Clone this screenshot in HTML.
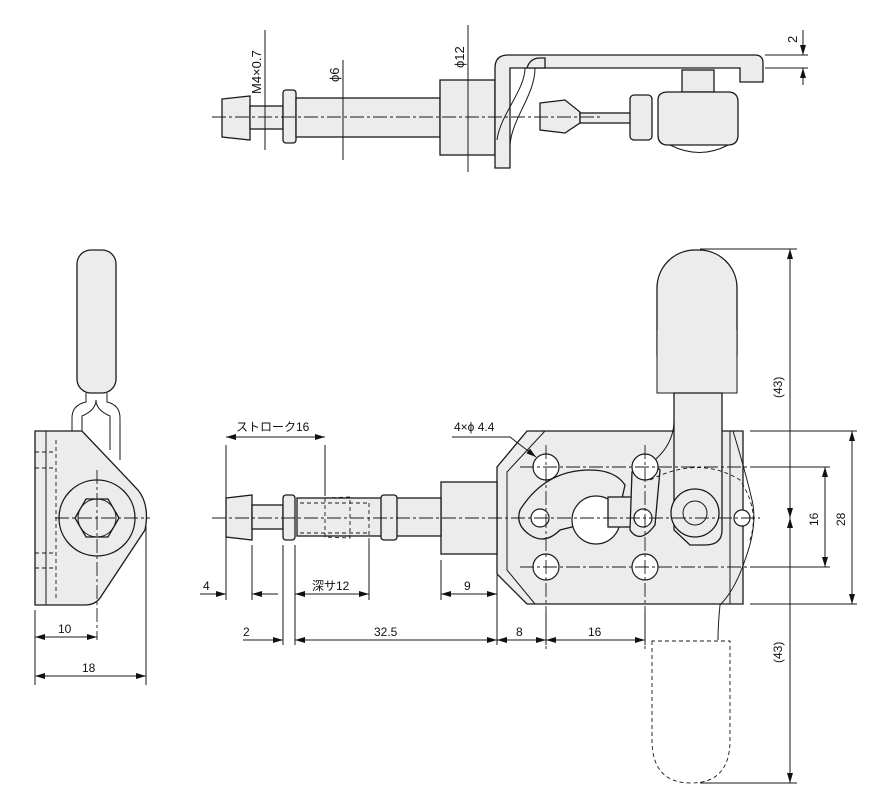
<!DOCTYPE html>
<html><head><meta charset="utf-8"><style>
body{margin:0;background:#fff}
svg{display:block}
text{font-family:"Liberation Sans","Noto Sans CJK JP",sans-serif;font-size:12px;fill:#111}
.o{fill:#ececec;stroke:#1a1a1a;stroke-width:1.3}
.l{fill:none;stroke:#1a1a1a;stroke-width:1}
.c{fill:none;stroke:#1a1a1a;stroke-width:.9;stroke-dasharray:14 3 3 3}
.d{fill:none;stroke:#1a1a1a;stroke-width:.9;stroke-dasharray:4 3}
.w{fill:#fff;stroke:#1a1a1a;stroke-width:1.2}
</style></head><body>
<svg width="875" height="808" viewBox="0 0 875 808" xmlns="http://www.w3.org/2000/svg">
<defs><marker id="a" viewBox="0 0 10 6" refX="10" refY="3" markerWidth="10" markerHeight="6" orient="auto-start-reverse"><path d="M0,0L10,3L0,6z" fill="#111"/></marker></defs>

<!-- TOP VIEW -->
<path class="o" d="M222,99 L250,96 L250,140 L222,137 Z"/>
<rect class="o" x="250" y="106" width="33" height="23"/>
<rect class="o" x="283" y="90" width="13" height="53" rx="3"/>
<rect class="o" x="296" y="98" width="144" height="39"/>
<rect class="o" x="440" y="80" width="55" height="75"/>
<path class="o" d="M495,168 L495,68 Q495,55 508,55 L755,55 Q763,55 763,63 L763,82 L740,82 L740,68 L510,68 L510,168 Z"/>
<path class="o" d="M527,68 Q530,58 540,58 L545,58 L545,68 Z"/>
<path class="l" d="M525,68 C525,90 500,115 497,140 M535,68 C535,95 512,118 510,145"/>
<path class="o" d="M540,103 L565,100 L580,112 L580,123 L565,133 L540,130 Z"/>
<rect class="o" x="580" y="113" width="52" height="10"/>
<rect class="o" x="630" y="95" width="22" height="45" rx="4"/>
<rect class="o" x="682" y="70" width="32" height="22"/>
<path class="o" d="M658,100 Q658,92 668,92 L728,92 Q738,92 738,102 L738,135 Q738,145 728,145 L668,145 Q658,145 658,135 Z"/>
<path class="l" d="M670,145 Q700,160 728,145"/>
<line class="c" x1="212" y1="117" x2="600" y2="117"/>
<line class="l" x1="265" y1="30" x2="265" y2="150"/>
<line class="l" x1="343" y1="60" x2="343" y2="160"/>
<line class="l" x1="468" y1="25" x2="468" y2="172"/>
<line class="l" x1="765" y1="55" x2="808" y2="55"/><line class="l" x1="765" y1="68" x2="808" y2="68"/>
<line class="l" x1="803" y1="30" x2="803" y2="55" marker-end="url(#a)"/><line class="l" x1="803" y1="85" x2="803" y2="68" marker-end="url(#a)"/>
<text transform="translate(261,94) rotate(-90)" style="font-size:13px">M4×0.7</text>
<text transform="translate(339,82) rotate(-90)" style="font-size:13px">ϕ6</text>
<text transform="translate(464,68) rotate(-90)" style="font-size:13px">ϕ12</text>
<text transform="translate(797,43) rotate(-90)" style="font-size:13px">2</text>

<!-- LEFT VIEW -->
<rect class="o" x="77" y="250" width="39" height="143" rx="14"/>
<path class="l" d="M86,393 L86,402 Q72,405 72,418 L72,432 M107,393 L107,402 Q120,405 120,418 L120,460 M96,400 Q96,410 82,416 L82,431 M96,400 Q96,410 110,416 L110,450"/>
<path class="o" d="M35,431 L82,431 L138,490 Q150,505 145,530 L100,598 Q95,605 85,605 L35,605 Z"/>
<line class="l" x1="46" y1="431" x2="46" y2="605"/>
<path class="d" d="M35,452 L56,452 M35,468 L56,468 M35,553 L56,553 M35,568 L56,568 M56,440 L56,600"/>
<circle class="o" cx="97" cy="518" r="38"/>
<polygon class="o" points="75,518 86,499 108,499 119,518 108,537 86,537"/>
<circle class="l" cx="97" cy="518" r="19"/>
<line class="c" x1="55" y1="518" x2="150" y2="518"/><line class="c" x1="97" y1="470" x2="97" y2="640"/>
<line class="l" x1="35" y1="610" x2="35" y2="685"/><line class="l" x1="146" y1="525" x2="146" y2="685"/>
<line class="l" x1="35" y1="637" x2="97" y2="637" marker-start="url(#a)" marker-end="url(#a)"/>
<line class="l" x1="35" y1="676" x2="146" y2="676" marker-start="url(#a)" marker-end="url(#a)"/>
<text x="58" y="633">10</text><text x="82" y="672">18</text>

<!-- MAIN VIEW -->
<rect class="o" x="657" y="250" width="80" height="143" rx="38" ry="38"/>
<rect x="657" y="330" width="80" height="63" fill="#ececec" stroke="none"/>
<path class="l" d="M657,320 L657,393 L737,393 L737,320"/>
<path class="o" d="M527,431 L743,431 L743,604 L527,604 L497,574 L497,467 Z"/>
<path class="l" d="M545,431 L507,472 L507,570 L535,604"/>
<path class="o" d="M674,393 L722,393 L722,530 Q722,545 705,545 L690,545 L674,530 Z"/>
<path class="l" d="M674,420 Q674,440 660,455 L640,475"/>
<line class="l" x1="730" y1="431" x2="730" y2="604"/>
<path class="l" d="M733,431 Q745,470 752,500 Q758,525 745,560 Q735,590 720,605 Q718,625 718,640"/>
<rect class="o" x="441" y="482" width="56" height="72"/>
<rect class="o" x="297" y="498" width="144" height="38"/>
<path class="o" d="M226,498 L252,495 L252,540 L226,537 Z"/>
<rect class="o" x="252" y="505" width="31" height="24"/>
<rect class="o" x="283" y="495" width="12" height="45" rx="3"/>
<rect class="o" x="381" y="495" width="16" height="45" rx="3"/>
<path class="d" d="M325,498 L350,497 L350,538 L325,537 Z M300,503 L369,503 M300,533 L369,533 M369,503 L369,540"/>
<path class="o" d="M520,510 Q545,470 590,470 Q615,470 625,485 L615,530 Q600,545 580,525 L560,530 Q545,545 530,535 Q515,525 520,510Z"/>
<circle class="w" cx="596" cy="520" r="24"/>
<rect x="608" y="497" width="25" height="30" class="o"/>
<path class="o" d="M632,472 Q645,455 660,470 L655,525 Q640,545 630,530 Z"/>
<circle class="o" cx="695" cy="513" r="24"/>
<circle class="l" cx="695" cy="513" r="12"/>
<path class="d" d="M650,480 Q700,455 740,480 Q760,510 750,540"/>
<g class="w">
<circle cx="546" cy="467" r="13"/><circle cx="546" cy="567" r="13"/>
<circle cx="645" cy="467" r="13"/><circle cx="645" cy="567" r="13"/>
<circle cx="540" cy="518" r="9"/><circle cx="643" cy="518" r="9"/><circle cx="742" cy="518" r="8"/>
</g>
<line class="c" x1="212" y1="518" x2="760" y2="518"/>
<path class="c" d="M546,445 L546,650 M645,445 L645,650 M520,467 L760,467 M520,567 L760,567"/>
<path class="d" d="M652,641 L652,740 Q652,783 691,783 Q730,783 730,740 L730,641 Z"/>

<!-- right dims -->
<path class="l" d="M700,249 L797,249 M750,431 L857,431 M700,783 L797,783 M750,604 L857,604 M760,467 L830,467 M760,567 L830,567"/>
<line class="l" x1="790" y1="249" x2="790" y2="518" marker-start="url(#a)" marker-end="url(#a)"/>
<line class="l" x1="790" y1="518" x2="790" y2="783" marker-start="url(#a)" marker-end="url(#a)"/>
<line class="l" x1="825" y1="467" x2="825" y2="567" marker-start="url(#a)" marker-end="url(#a)"/>
<line class="l" x1="852" y1="431" x2="852" y2="604" marker-start="url(#a)" marker-end="url(#a)"/>
<text transform="translate(782,398) rotate(-90)">(43)</text>
<text transform="translate(782,663) rotate(-90)">(43)</text>
<text transform="translate(818,526) rotate(-90)">16</text>
<text transform="translate(845,526) rotate(-90)">28</text>

<!-- bottom dims -->
<path class="l" d="M226,445 L226,600 M252,545 L252,600 M325,445 L325,496 M283,545 L283,645 M295,545 L295,645 M369,540 L369,600 M441,560 L441,600 M497,575 L497,645 M546,610 L546,645 M645,610 L645,645"/>
<line class="l" x1="226" y1="437" x2="325" y2="437" marker-start="url(#a)" marker-end="url(#a)"/>
<text x="236" y="431">ストローク16</text>
<line class="l" x1="200" y1="594" x2="226" y2="594" marker-end="url(#a)"/>
<line class="l" x1="278" y1="594" x2="252" y2="594" marker-end="url(#a)"/>
<text x="203" y="590">4</text>
<line class="l" x1="295" y1="594" x2="369" y2="594" marker-start="url(#a)" marker-end="url(#a)"/>
<text x="312" y="590">深サ12</text>
<line class="l" x1="441" y1="594" x2="497" y2="594" marker-start="url(#a)" marker-end="url(#a)"/>
<text x="464" y="590">9</text>
<line class="l" x1="243" y1="640" x2="283" y2="640" marker-end="url(#a)"/>
<text x="243" y="636">2</text>
<line class="l" x1="295" y1="640" x2="497" y2="640" marker-start="url(#a)" marker-end="url(#a)"/>
<text x="374" y="636">32.5</text>
<line class="l" x1="497" y1="640" x2="546" y2="640" marker-start="url(#a)" marker-end="url(#a)"/>
<text x="516" y="636">8</text>
<line class="l" x1="546" y1="640" x2="645" y2="640" marker-start="url(#a)" marker-end="url(#a)"/>
<text x="588" y="636">16</text>
<path class="l" d="M452,437 L510,437 L536,457" marker-end="url(#a)"/>
<text x="454" y="431">4×ϕ 4.4</text>
</svg>
</body></html>
